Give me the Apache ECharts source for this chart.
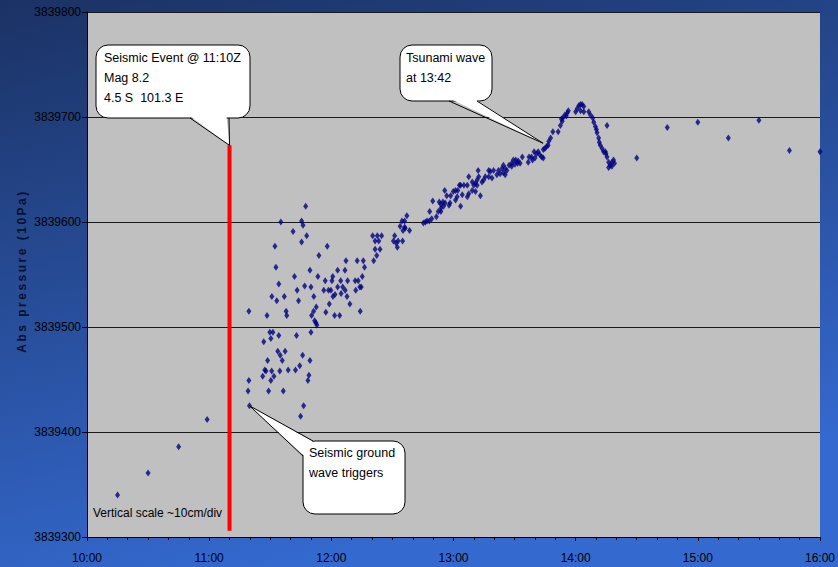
<!DOCTYPE html>
<html><head><meta charset="utf-8">
<script src="https://cdn.jsdelivr.net/npm/echarts@6/dist/echarts.min.js"></script>
<style>html,body{margin:0;padding:0;background:#2a55a8}#c{width:838px;height:567px}</style>
</head><body><div id="c"></div>
<script>
// Time in minutes after midnight (600 = 10:00), pressure in 10 Pa
const xTickLabels = ['10:00','11:00','12:00','13:00','14:00','15:00','16:00'];
const yTickValues = [3839300,3839400,3839500,3839600,3839700,3839800];

const preQuake = [[615,3839340],[630,3839361],[645,3839386],[659,3839412]];

const groundWave = [
[679.1,3839439],[679.5,3839449],[679.8,3839425],[679.5,3839515],[686.3,3839453],[686.8,3839486],[687.3,3839459],[687.9,3839458],
[688.4,3839511],[688.7,3839468],[689.2,3839439],[689.8,3839495],[690.3,3839489],[690.3,3839449],[690.7,3839458],[690.8,3839529],
[691.3,3839495],[691.8,3839453],[692.3,3839577],[692.8,3839557],[693.2,3839525],[693.7,3839477],[694.2,3839541],[694.2,3839492],
[694.7,3839458],[694.9,3839473],[695.2,3839600],[695.9,3839468],[696.4,3839439],[696.9,3839529],[697.3,3839477],[697.8,3839515],
[698.1,3839511],[698.8,3839459],[701.2,3839591],[701.9,3839548],[702.4,3839459],[702.9,3839492],[703.2,3839535],[703.9,3839525],
[704.5,3839463],[704.9,3839415],[705.4,3839601],[705.4,3839581],[705.9,3839473],[706.1,3839597],[706.4,3839425],[706.9,3839539],
[707.4,3839615],[707.9,3839587],[708.5,3839449],[709.0,3839454],[709.5,3839554],[709.5,3839468],[710.0,3839538],[710.0,3839495],
[710.3,3839511],[711.3,3839515],[711.4,3839529],[711.8,3839506],[712.4,3839504],[712.6,3839519],[712.9,3839502],[713.4,3839548],
[713.9,3839568],[717.0,3839544],[716.3,3839535],[717.3,3839514],[718.0,3839577],[718.6,3839535],[719.0,3839522],[719.8,3839535],
[720.3,3839544],[720.7,3839548],[720.8,3839529],[721.6,3839511],[721.8,3839531],[723.1,3839554],[723.1,3839538],[724.1,3839511],
[724.6,3839544],[724.8,3839532],[725.6,3839538],[726.7,3839554],[726.8,3839535],[727.2,3839563],[727.7,3839529],[728.0,3839544],
[729.1,3839522],[731.7,3839544],[732.0,3839535],[732.7,3839563],[733.2,3839544],[734.0,3839538],[734.2,3839515],[734.7,3839538],
[735.2,3839548],[735.7,3839563],[736.3,3839557]
];

const slowRise = [
[740.3,3839587],[742.6,3839587],[744.7,3839587],[741.5,3839582],[743.3,3839582],[741.5,3839574],[743.9,3839574],[742.3,3839568],[740.8,3839563],
[751.1,3839587],[750.5,3839582],[752.8,3839582],[755.0,3839582],[751.8,3839580],[752.4,3839576],[753.8,3839596],[754.7,3839601],[756.0,3839601],
[756.0,3839595],[755.2,3839592],[756.3,3839594],[758.4,3839592],[757.1,3839606],
[765.2,3839599],[766.2,3839600],[767.0,3839601],[768.1,3839601],[769.3,3839603],[769.8,3839620],[768.3,3839610],[771.6,3839605],[772.5,3839610],
[773.8,3839610],[773.0,3839619],[773.8,3839617],[774.8,3839619],[775.9,3839618],[773.8,3839613],[775.1,3839615],[775.7,3839630],[776.7,3839625],
[778.6,3839625],[777.8,3839616],[778.3,3839618],[779.9,3839629],[781.0,3839630],[782.1,3839630],[781.8,3839624],[781.0,3839621],[782.9,3839635],
[783.5,3839635],[783.5,3839615],[784.3,3839626],[785.1,3839635],[786.8,3839635],[786.8,3839624],[787.5,3839643],[787.5,3839627],[789.2,3839638],
[789.2,3839630],[790.0,3839635],[790.8,3839637],[790.8,3839629],[791.6,3839640],[791.6,3839635],[792.1,3839649],[792.4,3839643],[793.2,3839625],
[794.0,3839638],[794.8,3839640],[795.6,3839643],[797.3,3839649],[797.3,3839643],[798.1,3839648],[798.9,3839642],[799.7,3839649],[801.3,3839645],
[802.1,3839649],[802.9,3839646],[803.8,3839651],[804.5,3839654],[804.5,3839647],[805.4,3839651],[805.4,3839645],[806.2,3839649],[807.3,3839654],
[808.6,3839656],[808.6,3839653],[809.4,3839659],[810.2,3839655],[810.6,3839659],[811.5,3839656],[811.8,3839658],[812.7,3839656],[813.8,3839662],
[816.7,3839657],[817.1,3839662],[818.3,3839662],[818.8,3839659],[819.6,3839667],[820.0,3839661],[820.8,3839665],[821.6,3839667],[822.4,3839664],
[823.3,3839662],[824.1,3839669],[824.1,3839661],[824.9,3839670],[825.7,3839672],[826.5,3839673],[826.8,3839677]
];

const tsunamiPeak = [
[827.7,3839680],[828.8,3839686],[831.4,3839686],[832.5,3839692],[833.4,3839696],[833.0,3839698],[833.7,3839699],[834.7,3839702],[835.4,3839701],
[835.9,3839704],[836.4,3839706],[840.0,3839705],[840.8,3839708],[841.6,3839711],[842.4,3839712],[843.2,3839712],[844.0,3839710],[842.4,3839706],
[844.0,3839705],[846.4,3839705],[847.3,3839702],[848.4,3839699],[848.9,3839695],[849.7,3839691],[850.2,3839688],[850.5,3839685],[851.3,3839680],
[851.6,3839676],[852.1,3839673],[853.0,3839670],[853.7,3839667],[854.6,3839667],[854.9,3839665],[855.4,3839662],[855.4,3839692],[856.2,3839657],
[857.0,3839654],[857.8,3839653],[858.6,3839659],[859.1,3839656],[856.2,3839652],[857.8,3839657]
];

const afterWave = [[870,3839661],[885,3839690],[900,3839695],[915,3839680],[930,3839697],[945,3839668],[960,3839667]];

const seismicEventTime = 670;                 // 11:10Z
const eventLineSpan = [3839306, 3839673];

const calloutTexts = [
  ['Seismic Event @ 11:10Z','Mag 8.2','4.5 S  101.3 E'],
  ['Tsunami wave','at 13:42'],
  ['Seismic ground','wave triggers']
];
const calloutTargets = [[670,3839673],[824,3839675],[679.8,3839425]];
const noteText = 'Vertical scale ~10cm/div';
const yAxisTitle = 'Abs pressure (10Pa)';

const chart = echarts.init(document.getElementById('c'), null, {renderer:'svg'});
const markStyle = {type:'scatter', symbol:'diamond', symbolSize:[5,7], itemStyle:{color:'#00007f'}, z:5, animation:false};

chart.setOption({
  animation:false,
  backgroundColor:{type:'linear',x:0,y:0,x2:0.35,y2:1,colorStops:[{offset:0,color:'#1b3264'},{offset:1,color:'#3469cf'}]},
  grid:{left:87,right:10,top:12,bottom:30,show:true,backgroundColor:'#c0c0c0',borderWidth:0},
  xAxis:{type:'value',min:600,max:960,interval:60,
    axisLine:{lineStyle:{color:'#000',width:1}},
    axisTick:{length:4,lineStyle:{color:'#000'}},
    minorTick:{show:true,splitNumber:6,length:3,lineStyle:{color:'#000'}},
    splitLine:{show:false},
    axisLabel:{color:'#000',fontFamily:'Liberation Sans, Arial',fontSize:12,margin:15,
      formatter:v=>xTickLabels[Math.round((v-600)/60)]}},
  yAxis:{type:'value',min:yTickValues[0],max:yTickValues[yTickValues.length-1],interval:100,
    axisLine:{show:true,lineStyle:{color:'#000',width:1}},
    axisTick:{show:true,length:5,lineStyle:{color:'#000'}},
    splitLine:{lineStyle:{color:'#1a1a1a',width:1}},
    axisLabel:{color:'#000',fontFamily:'Liberation Sans, Arial',fontSize:12,margin:6,formatter:v=>String(v)}},
  series:[
    Object.assign({data:preQuake},markStyle),
    Object.assign({data:groundWave},markStyle),
    Object.assign({data:slowRise},markStyle),
    Object.assign({data:tsunamiPeak},markStyle),
    Object.assign({data:afterWave},markStyle),
    {type:'line',data:[[seismicEventTime,eventLineSpan[0]],[seismicEventTime,eventLineSpan[1]]],
     symbol:'none',lineStyle:{color:'#ff0000',width:4},z:3,animation:false}
  ]
});

function bubble(box, base1, base2, tip, lines, textX, textY0, lineH) {
  const [x0,y0,x1,y1] = box;
  const els = [];
  els.push({type:'rect',shape:{x:x0,y:y0,width:x1-x0,height:y1-y0,r:12},
    style:{fill:'#fff',stroke:'#000',lineWidth:1},z:100});
  const cx=(x0+x1)/2, cy=(y0+y1)/2;
  const inward = p => { const dx=cx-p[0], dy=cy-p[1]; const d=Math.hypot(dx,dy); return [p[0]+dx/d*3,p[1]+dy/d*3]; };
  els.push({type:'polygon',shape:{points:[inward(base1),tip,inward(base2)]},style:{fill:'#fff',stroke:null},z:101});
  els.push({type:'polyline',shape:{points:[base1,tip,base2]},style:{stroke:'#000',lineWidth:1,fill:null},z:102});
  lines.forEach((t,i)=>{
    els.push({type:'text',x:textX,y:textY0+i*lineH,z:103,
      style:{text:t,fill:'#000',font:'12.5px "Liberation Sans", Arial',textAlign:'left',textVerticalAlign:'middle'}});
  });
  return els;
}

const px = calloutTargets.map(p=>chart.convertToPixel({gridIndex:0},p));
const elements = [].concat(
  bubble([96,45,250,118],[190,118],[229,118],px[0],calloutTexts[0],104,58,20),
  bubble([400,45,492,101],[449,101],[477,101],px[1],calloutTexts[1],406,58,19.5),
  bubble([303,441,405,514],[303,456],[313,441],px[2],calloutTexts[2],309,453,20),
  [
    {type:'text',x:93,y:513,z:50,style:{text:noteText,fill:'#000',font:'12px "Liberation Sans", Arial',textAlign:'left',textVerticalAlign:'middle'}},
    {type:'text',x:22,y:271,rotation:Math.PI/2,z:50,style:{text:yAxisTitle,fill:'#0a1030',font:'bold 12px "Liberation Sans", Arial',textAlign:'center',textVerticalAlign:'middle'}}
  ]
);
chart.setOption({graphic:{elements:elements}});

function spaceTitle(){
  document.querySelectorAll('#c text').forEach(t=>{
    if (t.textContent === yAxisTitle) t.style.letterSpacing = '2.5px';
  });
}
spaceTitle();
chart.on('finished', spaceTitle);
</script>
</body></html>
